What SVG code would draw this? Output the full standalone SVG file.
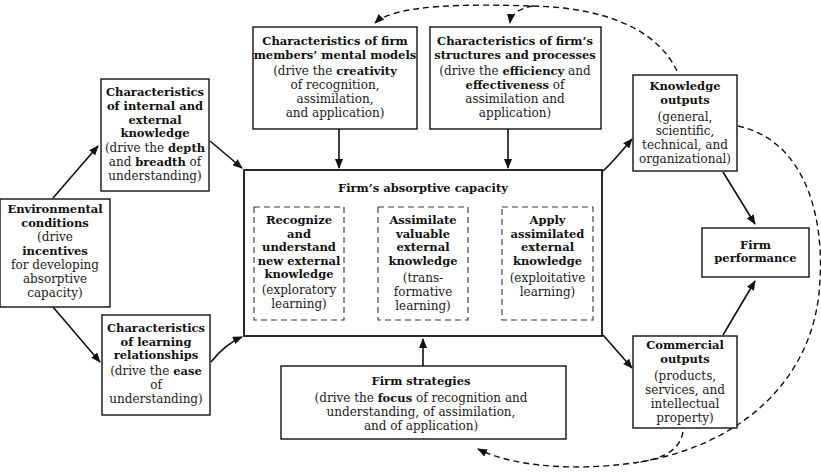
<svg xmlns="http://www.w3.org/2000/svg" width="821" height="472" viewBox="0 0 821 472">
<style>
text{font-family:"DejaVu Serif","Liberation Serif",serif;font-size:12px;text-anchor:middle;fill:#1a1a1a}
.b{font-weight:bold;font-size:11.5px;fill:#111}
.box{fill:#fff;stroke:#111;stroke-width:1.4}
.big{fill:#fff;stroke:#111;stroke-width:1.8}
.dbox{fill:none;stroke:#333;stroke-width:1.1;stroke-dasharray:6 4}
.c{fill:none;stroke:#111;stroke-width:1.6}
.dash{fill:none;stroke:#111;stroke-width:1.4;stroke-dasharray:6 4}
.dot{fill:none;stroke:#111;stroke-width:1.3;stroke-dasharray:1.5 1.5}
</style>
<defs>
<marker id="ah" markerUnits="userSpaceOnUse" markerWidth="10" markerHeight="8" refX="9" refY="4" orient="auto"><path d="M0,0 L10,4 L0,8 z" fill="#111"/></marker>
<marker id="ahs" markerUnits="userSpaceOnUse" markerWidth="8" markerHeight="7" refX="7" refY="3.5" orient="auto"><path d="M0,0 L8,3.5 L0,7 z" fill="#111"/></marker>
</defs>
<rect width="821" height="472" fill="#fff"/>

<g id="connectors">
<path class="c" d="M53,198 L98,146" marker-end="url(#ah)"/>
<path class="c" d="M53,307 L100,362" marker-end="url(#ah)"/>
<path class="c" d="M210,141 L242,168" marker-end="url(#ah)"/>
<path class="c" d="M211,362 Q225,344 242,337" marker-end="url(#ah)"/>
<path class="c" d="M339,129 L339,168" marker-end="url(#ah)"/>
<path class="c" d="M508,129 L508,168" marker-end="url(#ah)"/>
<path class="c" d="M423,366 L423,339" marker-end="url(#ah)"/>
<path class="c" d="M603,171 Q612,163 632,139" marker-end="url(#ah)"/>
<path class="c" d="M603,335 L632,368" marker-end="url(#ah)"/>
<path class="c" d="M723,172 L755,224" marker-end="url(#ah)"/>
<path class="c" d="M723,335 L755,281" marker-end="url(#ah)"/>
<path class="dot" d="M345,258 L376,258" marker-end="url(#ahs)"/>
<path class="dot" d="M469,258 L500,258" marker-end="url(#ahs)"/>
<path class="dash" d="M677,71 C660,35 615,8 533,6 C470,4 395,4 375,23" marker-end="url(#ah)"/>
<path class="dash" d="M533,6 C520,8 511,14 510,23" marker-end="url(#ah)"/>
<path class="dash" d="M738,126 C802,140 824,210 820,280 C816,380 740,445 640,462 C590,470 520,470 478,449" marker-end="url(#ah)"/>
<path class="dash" d="M683,432 C680,448 668,458 635,463"/>
</g>

<g id="env">
<rect class="box" x="0" y="199" width="110" height="108"/>
<text x="55" y="213" class="b">Environmental</text>
<text x="55" y="226.5" class="b">conditions</text>
<text x="55" y="241">(drive</text>
<text x="55" y="255" class="b">incentives</text>
<text x="55" y="269">for developing</text>
<text x="55" y="283">absorptive</text>
<text x="55" y="297">capacity)</text>
</g>

<g id="knowledge-char">
<rect class="box" x="101" y="79" width="108" height="112"/>
<text x="155" y="96" class="b">Characteristics</text>
<text x="155" y="110" class="b">of internal and</text>
<text x="155" y="123.5" class="b">external</text>
<text x="155" y="137" class="b">knowledge</text>
<text x="155" y="152">(drive the <tspan class="b">depth</tspan></text>
<text x="155" y="166">and <tspan class="b">breadth</tspan> of</text>
<text x="155" y="180">understanding)</text>
</g>

<g id="learning-char">
<rect class="box" x="102" y="315" width="108" height="100"/>
<text x="156" y="332" class="b">Characteristics</text>
<text x="156" y="345.5" class="b">of learning</text>
<text x="156" y="359" class="b">relationships</text>
<text x="156" y="375">(drive the <tspan class="b">ease</tspan></text>
<text x="156" y="389">of</text>
<text x="156" y="403">understanding)</text>
</g>

<g id="mental-models">
<rect class="box" x="253" y="27" width="164" height="102"/>
<text x="335" y="45" class="b">Characteristics of firm</text>
<text x="335" y="58.5" class="b">members’ mental models</text>
<text x="335" y="75">(drive the <tspan class="b">creativity</tspan></text>
<text x="335" y="89">of recognition,</text>
<text x="335" y="103">assimilation,</text>
<text x="335" y="117">and application)</text>
</g>

<g id="structures">
<rect class="box" x="430" y="27" width="171" height="102"/>
<text x="515" y="45" class="b">Characteristics of firm’s</text>
<text x="515" y="58.5" class="b">structures and processes</text>
<text x="515" y="75">(drive the <tspan class="b">efficiency</tspan> and</text>
<text x="515" y="89"><tspan class="b">effectiveness</tspan> of</text>
<text x="515" y="103">assimilation and</text>
<text x="515" y="117">application)</text>
</g>

<g id="absorptive-capacity">
<rect class="big" x="244" y="170" width="358" height="166"/>
<text x="423" y="192" class="b">Firm’s absorptive capacity</text>
</g>

<g id="recognize">
<rect class="dbox" x="254" y="207" width="90" height="113"/>
<text x="299" y="224" class="b">Recognize</text>
<text x="299" y="237.5" class="b">and</text>
<text x="299" y="251" class="b">understand</text>
<text x="299" y="264.5" class="b">new external</text>
<text x="299" y="278" class="b">knowledge</text>
<text x="299" y="294">(exploratory</text>
<text x="299" y="308">learning)</text>
</g>

<g id="assimilate">
<rect class="dbox" x="378" y="207" width="90" height="113"/>
<text x="423" y="224" class="b">Assimilate</text>
<text x="423" y="237.5" class="b">valuable</text>
<text x="423" y="251" class="b">external</text>
<text x="423" y="264.5" class="b">knowledge</text>
<text x="423" y="282">(trans-</text>
<text x="423" y="296">formative</text>
<text x="423" y="310">learning)</text>
</g>

<g id="apply">
<rect class="dbox" x="502" y="207" width="91" height="113"/>
<text x="547.5" y="224" class="b">Apply</text>
<text x="547.5" y="237.5" class="b">assimilated</text>
<text x="547.5" y="251" class="b">external</text>
<text x="547.5" y="264.5" class="b">knowledge</text>
<text x="547.5" y="282">(exploitative</text>
<text x="547.5" y="296">learning)</text>
</g>

<g id="strategies">
<rect class="box" x="281" y="366" width="285" height="73"/>
<text x="421" y="385" class="b">Firm strategies</text>
<text x="421" y="402">(drive the <tspan class="b">focus</tspan> of recognition and</text>
<text x="421" y="416">understanding, of assimilation,</text>
<text x="421" y="430">and of application)</text>
</g>

<g id="knowledge-outputs">
<rect class="box" x="633" y="75" width="104" height="96"/>
<text x="685" y="90" class="b">Knowledge</text>
<text x="685" y="103.5" class="b">outputs</text>
<text x="685" y="121">(general,</text>
<text x="685" y="135">scientific,</text>
<text x="685" y="149">technical, and</text>
<text x="685" y="163">organizational)</text>
</g>

<g id="performance">
<rect class="box" x="702" y="228" width="107" height="49"/>
<text x="755.5" y="249" class="b">Firm</text>
<text x="755.5" y="262" class="b">performance</text>
</g>

<g id="commercial-outputs">
<rect class="box" x="633" y="336" width="104" height="92"/>
<text x="685" y="349" class="b">Commercial</text>
<text x="685" y="362.5" class="b">outputs</text>
<text x="685" y="380">(products,</text>
<text x="685" y="394">services, and</text>
<text x="685" y="408">intellectual</text>
<text x="685" y="422">property)</text>
</g>
</svg>
